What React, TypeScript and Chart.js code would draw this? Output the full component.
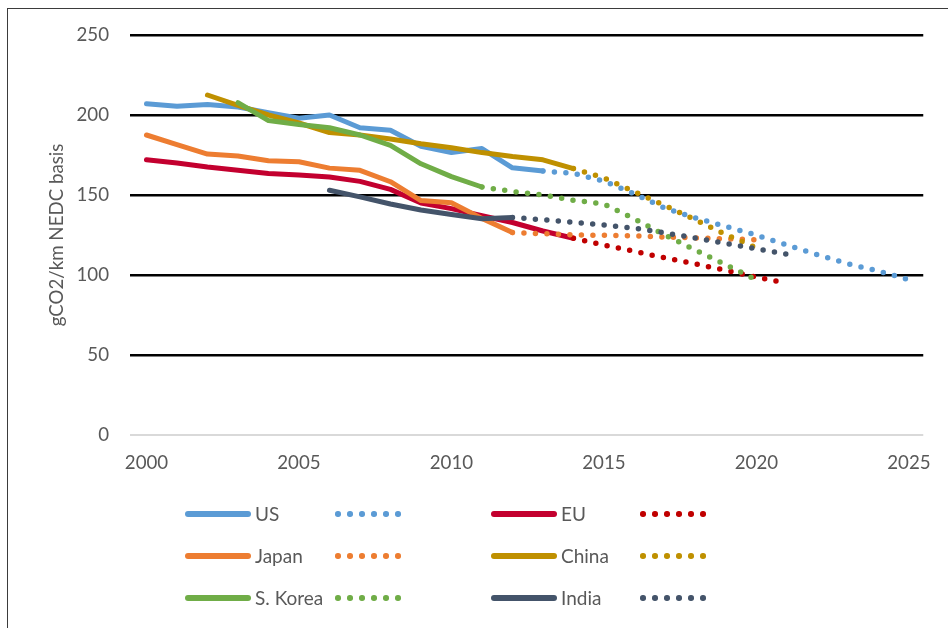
import React, { useEffect, useRef } from 'react';
import { Chart, registerables } from 'chart.js';

Chart.register(...registerables);

// ---------- data ----------
const usYears = [2000, 2001, 2002, 2003, 2004, 2005, 2006, 2007, 2008, 2009, 2010, 2011, 2012, 2013];
const usValues = [207, 205.5, 206.5, 205, 201.5, 198, 200, 192, 190.5, 180.5, 176.5, 179, 167, 165];
const usProjYears = [2013, 2014, 2015, 2016, 2017, 2018, 2019, 2020, 2021, 2022, 2023, 2024, 2025];
const usProjValues = [165, 163.5, 158.7, 150.7, 141.8, 135.7, 130.3, 124.9, 118.7, 112.6, 107, 102.5, 97];

const euYears = [2000, 2001, 2002, 2003, 2004, 2005, 2006, 2007, 2008, 2009, 2010, 2011, 2012, 2013, 2014];
const euValues = [172, 170, 167.5, 165.5, 163.5, 162.5, 161.3, 158.5, 153.5, 145, 141.5, 137, 132.8, 127.5, 123];
const euProjYears = [2014, 2015, 2016, 2017, 2018, 2019, 2020, 2021];
const euProjValues = [123, 118.6, 114.8, 110.7, 106.9, 102.9, 98.6, 95];

const japanYears = [2000, 2001, 2002, 2003, 2004, 2005, 2006, 2007, 2008, 2009, 2010, 2011, 2012];
const japanValues = [187.5, 181.5, 175.6, 174.4, 171.4, 170.8, 166.8, 165.4, 158.3, 146.5, 145.2, 135.4, 126.5];
const japanProjYears = [2012, 2013, 2014, 2015, 2016, 2017, 2018, 2019, 2020];
const japanProjValues = [126.5, 125.8, 125.1, 124.8, 124.4, 123.7, 123.2, 122.6, 122];

const chinaYears = [2002, 2003, 2004, 2005, 2006, 2007, 2008, 2009, 2010, 2011, 2012, 2013, 2014];
const chinaValues = [212.5, 206, 200, 195, 189, 187.5, 185, 182, 179.5, 176.5, 174, 172, 166.5];
const chinaProjYears = [2014, 2015, 2016, 2017, 2018, 2019, 2020];
const chinaProjValues = [166.5, 160.7, 152, 143.4, 134.5, 125.2, 117];

const koreaYears = [2003, 2004, 2005, 2006, 2007, 2008, 2009, 2010, 2011];
const koreaValues = [207.7, 196.5, 194, 192, 187.5, 181, 169.5, 161.5, 155];
const koreaProjYears = [2011, 2012, 2013, 2014, 2015, 2016, 2017, 2018, 2019, 2020];
const koreaProjValues = [155, 152.2, 150, 146.7, 144.4, 135, 125, 115.6, 106.3, 97];

const indiaYears = [2006, 2007, 2008, 2009, 2010, 2011, 2012];
const indiaValues = [153, 148.8, 144.4, 140.6, 137.8, 135.2, 136];
const indiaProjYears = [2012, 2013, 2014, 2015, 2016, 2017, 2018, 2019, 2020, 2021];
const indiaProjValues = [136, 134.5, 133, 131.2, 129.3, 126.3, 123.1, 119.7, 116.3, 113];

const xTickValues = [2000, 2005, 2010, 2015, 2020, 2025];
const yTickValues = [0, 50, 100, 150, 200, 250];
const yTitle = 'gCO2/km NEDC basis';

const seriesNames = ['US', 'EU', 'Japan', 'China', 'S. Korea', 'India'];

// ---------- styles ----------
const FONT = 'Lato, "Open Sans", sans-serif';
const TEXT = '#595959';
const C = {
  us: '#5B9BD5',
  eu: '#C3002F',
  euDot: '#C00000',
  japan: '#ED7D31',
  china: '#BF9000',
  korea: '#70AD47',
  india: '#44546A',
};

const toPts = (xs: number[], ys: number[]) => xs.map((x, i) => ({ x, y: ys[i] }));

const solid = (label: string, xs: number[], ys: number[], color: string) => ({
  label,
  data: toPts(xs, ys),
  borderColor: color,
  backgroundColor: color,
  borderWidth: 5,
  borderCapStyle: 'round',
  borderJoinStyle: 'round',
  pointRadius: 0,
  tension: 0,
  fill: false,
});

const dotted = (label: string, xs: number[], ys: number[], color: string) => ({
  label,
  data: toPts(xs, ys),
  borderColor: color,
  backgroundColor: color,
  borderWidth: 5.5,
  borderDash: [0, 11.5],
  borderCapStyle: 'round',
  borderJoinStyle: 'round',
  pointRadius: 0,
  tension: 0,
  fill: false,
});

const W = 948;
const H = 628;

const legendRows = [
  [
    { name: seriesNames[0], color: C.us, dot: C.us },
    { name: seriesNames[1], color: C.eu, dot: C.euDot },
  ],
  [
    { name: seriesNames[2], color: C.japan, dot: C.japan },
    { name: seriesNames[3], color: C.china, dot: C.china },
  ],
  [
    { name: seriesNames[4], color: C.korea, dot: C.korea },
    { name: seriesNames[5], color: C.india, dot: C.india },
  ],
];

export default function App() {
  const ref = useRef<HTMLCanvasElement>(null);

  useEffect(() => {
    const datasets: any[] = [
      solid('US', usYears, usValues, C.us),
      dotted('US projection', usProjYears, usProjValues, C.us),
      solid('EU', euYears, euValues, C.eu),
      dotted('EU projection', euProjYears, euProjValues, C.euDot),
      solid('Japan', japanYears, japanValues, C.japan),
      dotted('Japan projection', japanProjYears, japanProjValues, C.japan),
      solid('China', chinaYears, chinaValues, C.china),
      dotted('China projection', chinaProjYears, chinaProjValues, C.china),
      solid('S. Korea', koreaYears, koreaValues, C.korea),
      dotted('S. Korea projection', koreaProjYears, koreaProjValues, C.korea),
      solid('India', indiaYears, indiaValues, C.india),
      dotted('India projection', indiaProjYears, indiaProjValues, C.india),
    ];
    datasets.forEach((d, i) => (d.order = datasets.length - i));

    const chart = new Chart(ref.current as HTMLCanvasElement, {
      type: 'line',
      data: { datasets },
      options: {
        responsive: false,
        animation: false,
        devicePixelRatio: 1,
        layout: { padding: { top: 35, right: W - 926, left: 0, bottom: 0 } },
        plugins: {
          legend: { display: false },
          tooltip: { enabled: false },
          title: { display: false },
        },
        scales: {
          x: {
            type: 'linear',
            min: 1999.46,
            max: 2025.47,
            afterBuildTicks: (scale: any) => {
              scale.ticks = xTickValues.map((v) => ({ value: v }));
            },
            afterFit: (scale: any) => {
              scale.height = H - 435;
            },
            grid: { display: false, drawTicks: false },
            border: { display: false },
            ticks: {
              autoSkip: false,
              maxRotation: 0,
              padding: 17,
              color: TEXT,
              font: { family: FONT, size: 18.7 },
              callback: (v: any) => String(v),
            },
          },
          y: {
            type: 'linear',
            min: 0,
            max: 250,
            afterBuildTicks: (scale: any) => {
              scale.ticks = yTickValues.map((v) => ({ value: v }));
            },
            afterFit: (scale: any) => {
              scale.width = 130;
            },
            grid: {
              drawTicks: false,
              color: (ctx: any) => (ctx.tick && ctx.tick.value === 0 ? '#D9D9D9' : '#000000'),
              lineWidth: (ctx: any) => (ctx.tick && ctx.tick.value === 0 ? 2 : 2.5),
            },
            border: { display: false },
            ticks: {
              padding: 21,
              color: TEXT,
              font: { family: FONT, size: 18.7 },
              callback: (v: any) => String(v),
            },
            title: {
              display: true,
              text: yTitle,
              color: TEXT,
              font: { family: FONT, size: 18.7 },
              padding: { top: 46, bottom: 0 },
            },
          },
        },
      } as any,
    });
    return () => chart.destroy();
  }, []);

  const rowY = [514, 556, 598];
  const cols = [
    { lineX: 185, dotX: 338 },
    { lineX: 491, dotX: 643 },
  ];

  return (
    <div
      style={{
        position: 'fixed',
        left: 0,
        top: 0,
        width: W,
        height: H,
        background: '#ffffff',
        overflow: 'hidden',
      }}
    >
      <div
        style={{
          position: 'absolute',
          left: 7,
          top: 8,
          width: W,
          height: H,
          borderLeft: '1px solid #3b3b3b',
          borderTop: '1px solid #3b3b3b',
        }}
      />
      <canvas
        ref={ref}
        width={W}
        height={H}
        style={{ position: 'absolute', left: 0, top: 0, width: W, height: H }}
      />
      {legendRows.map((row, r) =>
        row.map((item, c) => {
          const y = rowY[r];
          const { lineX, dotX } = cols[c];
          return (
            <React.Fragment key={`${r}-${c}`}>
              <div
                style={{
                  position: 'absolute',
                  left: lineX,
                  top: y - 3,
                  width: 66,
                  height: 6,
                  borderRadius: 3,
                  background: item.color,
                }}
              />
              <span
                style={{
                  position: 'absolute',
                  left: lineX + 70,
                  top: y - 12,
                  height: 24,
                  lineHeight: '24px',
                  fontFamily: FONT,
                  fontSize: 19,
                  color: TEXT,
                  whiteSpace: 'nowrap',
                }}
              >
                {item.name}
              </span>
              {[0, 1, 2, 3, 4, 5].map((k) => (
                <div
                  key={k}
                  style={{
                    position: 'absolute',
                    left: dotX + k * 12 - 2.75,
                    top: y - 2.75,
                    width: 5.5,
                    height: 5.5,
                    borderRadius: '50%',
                    background: item.dot,
                  }}
                />
              ))}
            </React.Fragment>
          );
        })
      )}
    </div>
  );
}
